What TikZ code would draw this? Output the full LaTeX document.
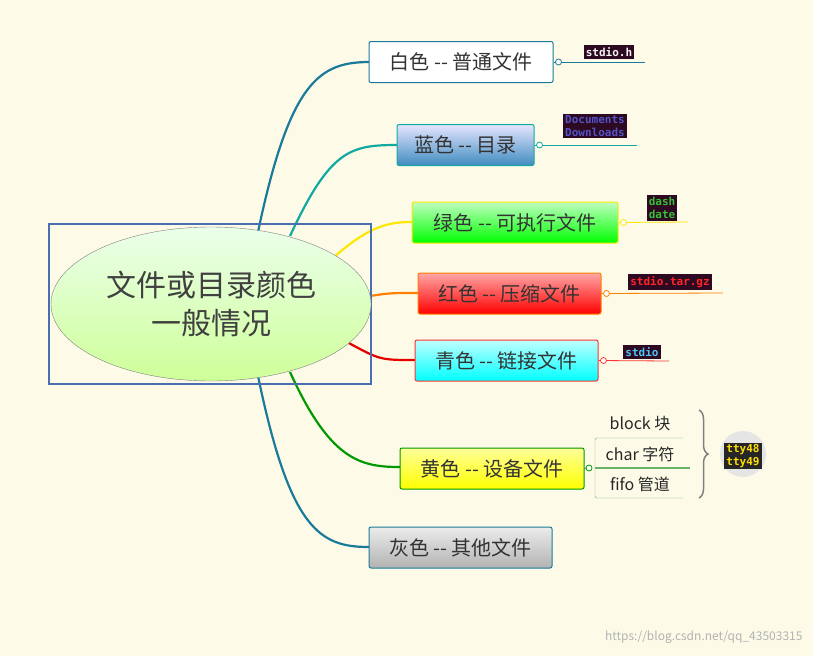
\documentclass[tikz,border=0pt]{standalone}
\usepackage{fontspec}
\setmainfont{Noto Sans CJK SC}
\setmonofont{DejaVu Sans Mono}
\usetikzlibrary{decorations.pathreplacing}
\definecolor{bg}{HTML}{FDFBE8}
\definecolor{teal1}{HTML}{1A7A9A}
\definecolor{teal2}{HTML}{12A9A0}
\definecolor{term}{HTML}{2D0922}
\definecolor{frame}{HTML}{4A6FB0}
\tikzset{
 br/.style={line width=2.2pt},
 tbox/.style={rounded corners=2pt,minimum height=41pt,inner xsep=10pt,font=\fontsize{20}{22}\selectfont,text=black!80},
 knob/.style={circle,draw,fill=white,inner sep=0pt,minimum size=6pt,line width=0.8pt},
 lab/.style={fill=term,font=\ttfamily\bfseries\fontsize{11}{12.5}\selectfont,inner sep=2pt,align=left},
}
\begin{document}
\begin{tikzpicture}[x=1pt,y=-1pt]
\fill[bg] (0,0) rectangle (813,656);
\useasboundingbox (0,0) rectangle (813,656);
% branches
\draw[br,teal1] (258,232) .. controls (290,80) and (320,62) .. (370,62);
\draw[br,teal2] (290,236) .. controls (330,150) and (350,145) .. (397,145);
\draw[br,yellow!90!orange] (333,258) .. controls (370,225) and (390,222) .. (412,222);
\draw[br,orange] (370,296) .. controls (390,293) .. (418,293);
\draw[br,red!90!black] (347,342) .. controls (380,360) .. (415,360);
\draw[br,green!60!black] (290,372) .. controls (330,460) and (360,467) .. (400,467);
\draw[br,teal1] (258,376) .. controls (290,530) and (320,547) .. (369,547);
% center
\draw[line width=2.2pt,frame] (49,224) rectangle (371,384);
\shade[top color=green!8,bottom color=green!30!lime!40,draw=gray] (211,304) ellipse [x radius=160,y radius=77];
\node[font=\fontsize{30}{38}\selectfont,align=center,text=black!75] (c) at (211,304) {文件或目录颜色\\一般情况};
% boxes
\node[tbox,draw=teal1,fill=white,line width=1pt,minimum width=184pt] (w) at (461,62) {白色 {-}{-} 普通文件};
\node[tbox,draw=teal2,top color=blue!10,bottom color=blue!40!cyan!50!gray,line width=1pt,minimum width=137pt] (b) at (465.5,145) {蓝色 {-}{-} 目录};
\node[tbox,draw=yellow!90!orange,top color=green!25,bottom color=green,line width=1pt,minimum width=206pt] (g) at (515,222.5) {绿色 {-}{-} 可执行文件};
\node[tbox,draw=orange,top color=red!35,bottom color=red,line width=1pt,minimum width=183pt] (r) at (509.5,293.5) {红色 {-}{-} 压缩文件};
\node[tbox,draw=red!80,top color=cyan!25,bottom color=cyan,line width=1pt,minimum width=183pt] (cy) at (506.5,360.5) {青色 {-}{-} 链接文件};
\node[tbox,draw=green!60!black,top color=yellow!40,bottom color=yellow,line width=1pt,minimum width=184pt] (y) at (492,468.5) {黄色 {-}{-} 设备文件};
\node[tbox,draw=teal1,top color=gray!15,bottom color=gray!60,line width=1pt,minimum width=183pt] (gr) at (460.5,547.5) {灰色 {-}{-} 其他文件};
% knobs and leaders
\coordinate (w1) at (645,62); \draw[teal1,thick] (w.east) -- (w1); \node[knob,draw=teal1] at ([xshift=5pt]w.east) {};
\coordinate (b1) at (637,145); \draw[teal2,thick] (b.east) -- (b1); \node[knob,draw=teal2] at ([xshift=5pt]b.east) {};
\coordinate (g1) at (688,222); \draw[yellow!90!orange,thick] (g.east) -- (g1); \node[knob,draw=yellow!90!orange] at ([xshift=5pt]g.east) {};
\coordinate (r1) at (723,293); \draw[orange,thick] (r.east) -- (r1); \node[knob,draw=orange] at ([xshift=5pt]r.east) {};
\coordinate (c1) at (669,361); \draw[red!80,thick] (cy.east) -- (c1); \node[knob,draw=red!80] at ([xshift=5pt]cy.east) {};
\node[lab,text=white!90!gray] (l1) at (609,52) {stdio.h};
\node[lab,text=blue!50!gray!90!white] (l2) at (595,126) {Documents\\Downloads};
\node[lab,text=green!70!black!80!white] (l3) at (662,208) {dash\\date};
\node[lab,text=red!85!white] (l4) at (670,282) {stdio.tar.gz};
\node[lab,text=cyan!70!white] (l5) at (642,352) {stdio};
% device sub-items
\coordinate (d0) at (590,468);
\draw[green!60!black,line width=0.6pt] (y.east) -- (d0);
\draw[green!50!black!60,rounded corners=2pt] (683,438) -- (595,438) -- (595,498) -- (683,498);
\draw[green!50!black!60,line width=1.5pt] (595,468) -- (690,468);
\node[knob,draw=green!60!black] at (589,468) {};
\node[font=\fontsize{16}{18}\selectfont,text=black!85] (s1) at (640,424) {block 块};
\node[font=\fontsize{16}{18}\selectfont,text=black!85] (s2) at (640,454) {char 字符};
\node[font=\fontsize{16}{18}\selectfont,text=black!85] (s3) at (640,484) {fifo 管道};
\draw[gray,line width=1.5pt,decorate,decoration={brace,amplitude=9pt}] (699,410) -- (699,498);
\fill[gray!20] (743,454) circle (23);
\node[lab,text=yellow!80!orange,fill=black!85] (l6) at (743,456) {tty48\\tty49};
\node[font=\fontsize{12}{14}\selectfont,text=gray!60,anchor=east] (wm) at (806,637) {https://blog.csdn.net/qq\_43503315};
\end{tikzpicture}
\end{document}
